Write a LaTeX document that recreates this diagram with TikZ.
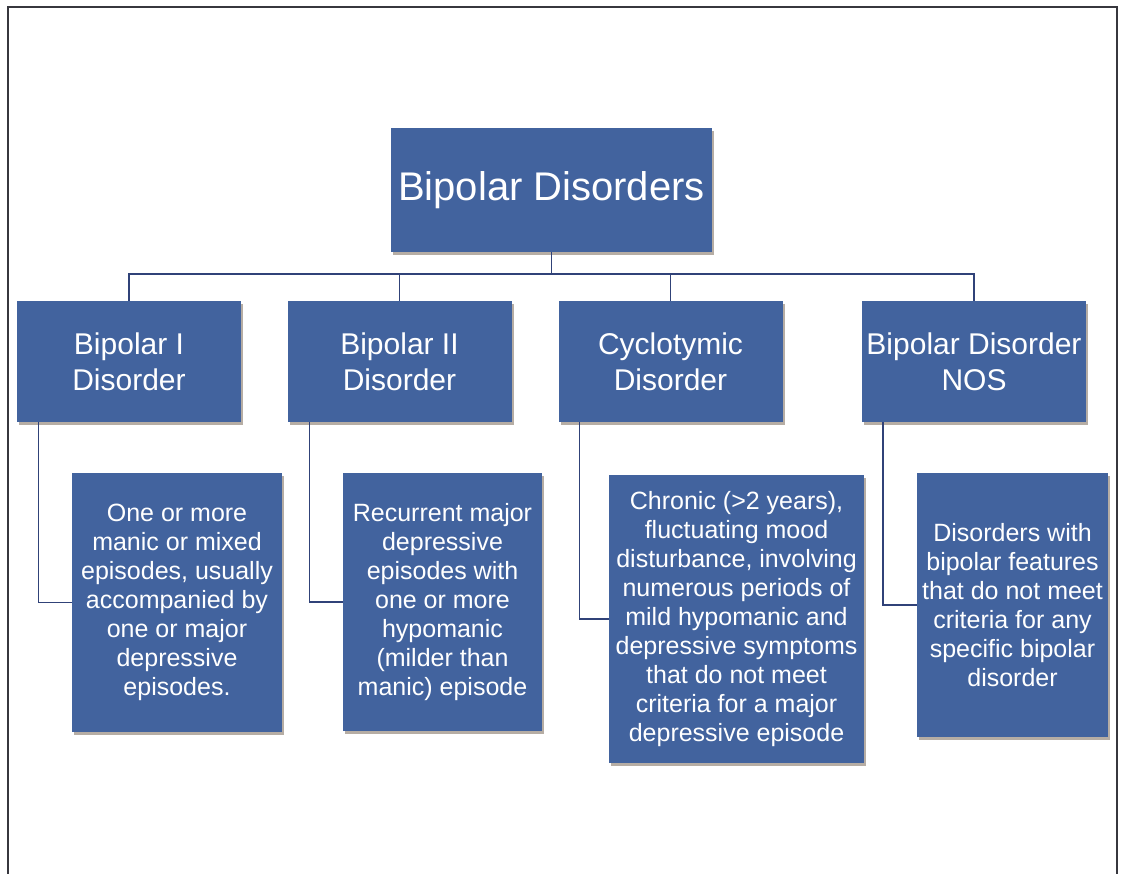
\documentclass[tikz,border=0pt]{standalone}
\usepackage{fontspec}
\setmainfont{Liberation Sans}
\definecolor{myblue}{RGB}{66,99,158}
\definecolor{mylink}{RGB}{48,66,120}
\definecolor{myframe}{RGB}{55,55,62}
\definecolor{myshadow}{RGB}{95,75,55}
\usetikzlibrary{positioning,shadows,calc}

\begin{document}
\begin{tikzpicture}[x=1pt,y=-1pt,
        every node/.style={fill=myblue,text=white,align=center,inner sep=0pt,
            drop shadow={fill=myshadow,opacity=0.45,shadow xshift=2pt,shadow yshift=-3pt}},
        topbox/.style={minimum width=321pt,minimum height=124pt,font=\fontsize{40}{48}\selectfont},
        catbox/.style={minimum width=224pt,minimum height=121pt,font=\fontsize{30}{36}\selectfont},
        descbox/.style={font=\fontsize{25}{29}\selectfont},
        link/.style={draw=mylink,line width=1.4pt}
        ]
        \useasboundingbox (0,0) rectangle (1123,874);
        \fill[white] (0,0) rectangle (1123,874);

        % the frame
        \draw[myframe,line width=2pt] (7.5,874) -- (7.5,7.5) -- (1117,7.5) -- (1117,874);

        % the root
        \node[topbox] (root) at (551.5,190) {Bipolar Disorders};

        % the categories
        \node[catbox] (bpI) at (129,361.5) {Bipolar I\\Disorder};
        \node[catbox] (bpII) at (399.5,361.5) {Bipolar II\\Disorder};
        \node[catbox] (cyclo) at (670.5,361.5) {Cyclotymic\\Disorder};
        \node[catbox] (nos) at (974,361.5) {Bipolar Disorder\\NOS};

        % the descriptions
        \node[descbox,minimum width=210pt,minimum height=259pt] (descI) at (177,602.5)
            {One or more\\manic or mixed\\episodes, usually\\accompanied by\\one or major\\depressive\\episodes.};
        \node[descbox,minimum width=199pt,minimum height=258pt] (descII) at (442.5,602)
            {Recurrent major\\depressive\\episodes with\\one or more\\hypomanic\\(milder than\\manic) episode};
        \node[descbox,minimum width=255pt,minimum height=288pt] (descC) at (736.5,619)
            {Chronic (>2 years),\\fluctuating mood\\disturbance, involving\\numerous periods of\\mild hypomanic and\\depressive symptoms\\that do not meet\\criteria for a major\\depressive episode};
        \node[descbox,minimum width=191pt,minimum height=264pt] (descN) at (1012.5,605)
            {Disorders with\\bipolar features\\that do not meet\\criteria for any\\specific bipolar\\disorder};

        % the edges
        \coordinate (bus) at (551.5,274);
        \draw[link] (root.south) -- (bus);
        \draw[link] (bus) -| (bpI.north);
        \draw[link] (bus) -| (bpII.north);
        \draw[link] (bus) -| (cyclo.north);
        \draw[link] (bus) -| (nos.north);
        \draw[link] ([xshift=21.5pt]bpI.south west) |- (descI.west);
        \draw[link] ([xshift=22pt]bpII.south west) |- (descII.west);
        \draw[link] ([xshift=21pt]cyclo.south west) |- (descC.west);
        \draw[link] ([xshift=21pt]nos.south west) |- (descN.west);
        \end{tikzpicture}
\end{document}
